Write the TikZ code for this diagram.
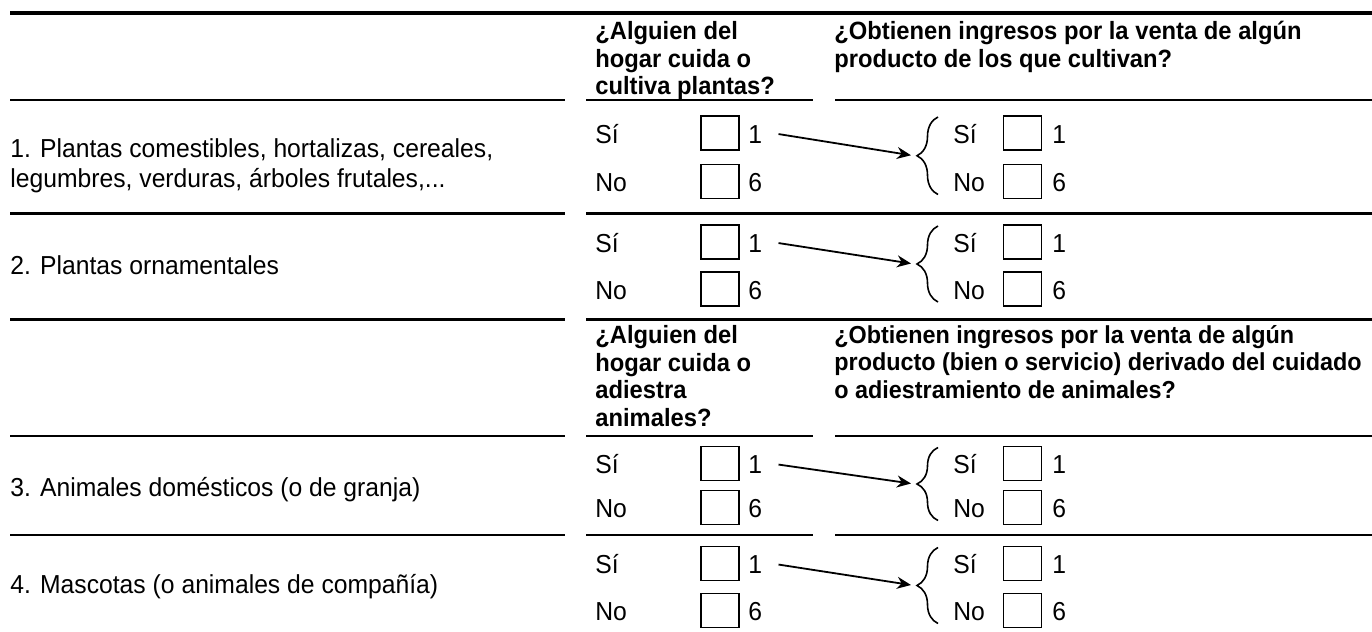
\documentclass[tikz,border=0pt]{standalone}
\usepackage{fontspec}
\setmainfont{Liberation Sans}[FakeStretch=0.95]
\usetikzlibrary{arrows.meta,decorations.pathreplacing}

\begin{document}
\begin{tikzpicture}[x=0.5pt,y=-0.5pt,
  rule/.style={line width=#1, line cap=butt},
  box/.style={draw, line width=0.9pt, minimum width=19pt, minimum height=17pt, inner sep=0pt},
  opt/.style={anchor=base west, inner sep=0pt, font=\fontsize{13}{15}\selectfont},
  item/.style={anchor=north west, inner sep=0pt, align=left, font=\fontsize{13}{15}\selectfont},
  hdr/.style={anchor=north west, inner sep=0pt, align=left, font=\fontsize{12.5}{13.75}\selectfont\bfseries},
  arr/.style={-{Stealth[length=7pt,width=6pt]}, line width=0.9pt},
  brc/.style={decorate, decoration={brace, amplitude=10.5pt}, line width=0.8pt}]
  \useasboundingbox (0,0) rectangle (1372,632);
  % rules
  \draw[rule=1.7pt] (10,13) -- (1372,13);
  \foreach \y in {213,319} {
    \draw[rule=1.5pt] (10,\y) -- (565,\y) (586,\y) -- (1372,\y);
  }
  \foreach \y in {100,436,535} {
    \draw[rule=1.1pt] (10,\y) -- (565,\y) (586,\y) -- (813,\y) (835,\y) -- (1372,\y);
  }
  % headers
  \node[hdr] (q1) at (595,21) {¿Alguien del\\hogar cuida o\\cultiva plantas?};
  \node[hdr] (v1) at (834,21) {¿Obtienen ingresos por la venta de algún\\producto de los que cultivan?};
  \node[hdr] (q2) at (595,325) {¿Alguien del\\hogar cuida o\\adiestra\\animales?};
  \node[hdr, font=\fontsize{12.3}{13.75}\selectfont\bfseries] (v2) at (834,325) {¿Obtienen ingresos por la venta de algún\\producto (bien o servicio) derivado del cuidado\\o adiestramiento de animales?};
  % items
  \node[item] (i1) at (10,138) {1. Plantas comestibles, hortalizas, cereales,\\legumbres, verduras, árboles frutales,...};
  \node[opt] (i2) at (10,274) {2. Plantas ornamentales};
  \node[opt] (i3) at (10,496) {3. Animales domésticos (o de granja)};
  \node[opt] (i4) at (10,593) {4. Mascotas (o animales de compañía)};
  % answers
  \foreach \r/\s/\n in {1/133/181.5,2/242/289,3/463.5/507.5,4/563.5/610.5} {
    \node[opt] at (595,\s+10) {Sí};
    \node[opt] at (595,\n+10) {No};
    \node[box] (s\r) at (720,\s) {};
    \node[box] (n\r) at (720,\n) {};
    \node[opt] (o\r) at (748,\s+10) {1};
    \node[opt] at (748,\n+10) {6};
    \coordinate (t\r) at (911,{(\s+\n)/2-2});
    \draw[arr] ([xshift=8pt]o\r.east) -- (t\r);
    \draw[brc] (938,\n+13) -- (938,\s-16);
    \node[opt] at (953,\s+10) {Sí};
    \node[opt] at (953,\n+10) {No};
    \node[box] (ss\r) at (1022.5,\s) {};
    \node[box] (nn\r) at (1022.5,\n) {};
    \node[opt] at (1052,\s+10) {1};
    \node[opt] at (1052,\n+10) {6};
  }
\end{tikzpicture}
\end{document}
